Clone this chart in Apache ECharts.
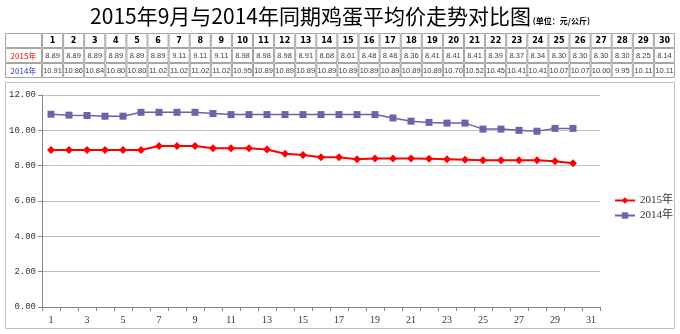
<!DOCTYPE html>
<html>
<head>
<meta charset="utf-8">
<script src="https://cdn.jsdelivr.net/npm/echarts@6/dist/echarts.min.js"></script>
<style>
  html, body { margin: 0; padding: 0; background: #fff; }
  #main { width: 680px; height: 334px; }
</style>
</head>
<body>
<div id="main"></div>
<script>
// Days of September, prices in yuan per kg
const days = [1,2,3,4,5,6,7,8,9,10,11,12,13,14,15,16,17,18,19,20,21,22,23,24,25,26,27,28,29,30];
const axisDays = [1,2,3,4,5,6,7,8,9,10,11,12,13,14,15,16,17,18,19,20,21,22,23,24,25,26,27,28,29,30,31];
const price2015 = [8.89,8.89,8.89,8.89,8.89,8.89,9.11,9.11,9.11,8.98,8.98,8.98,8.91,8.68,8.61,8.48,8.48,8.36,8.41,8.41,8.41,8.39,8.37,8.34,8.30,8.30,8.30,8.30,8.25,8.14];
const price2014 = [10.91,10.86,10.84,10.80,10.80,11.02,11.02,11.02,11.02,10.95,10.89,10.89,10.89,10.89,10.89,10.89,10.89,10.89,10.89,10.70,10.52,10.45,10.41,10.41,10.07,10.07,10.00,9.95,10.11,10.11];
const seriesNames = ['2015年', '2014年'];
const yTicks = [0, 2, 4, 6, 8, 10, 12];

const RED = '#FF0000';
const BLUE = '#6666A8';

// Summary table drawn above the plot
function buildTable() {
  const els = [];
  const x0 = 5, firstW = 37, colW = (675 - 42) / days.length;
  const rowY = [33, 48, 63], rowH = 15;
  const cell = (x, y, w, h) => ({
    type: 'rect',
    shape: { x: x + 0.5, y: y + 0.5, width: w - 1, height: h - 1 },
    style: { fill: '#fff', stroke: '#A6A6A6', lineWidth: 1 }
  });
  const txt = (cx, cy, s, color, font) => ({
    type: 'text',
    style: { x: cx, y: cy, text: s, fill: color, font: font, textAlign: 'center', textVerticalAlign: 'middle' }
  });
  rowY.forEach(y => els.push(cell(x0, y, firstW, rowH)));
  days.forEach((d, i) => {
    const x = 42 + colW * i;
    rowY.forEach(y => els.push(cell(x, y, colW, rowH)));
    const cx = x + colW / 2;
    els.push(txt(cx, rowY[0] + rowH / 2 + 0.5, String(d), '#000', 'bold 8px "DejaVu Sans"'));
    els.push(txt(cx, rowY[1] + rowH / 2 + 0.5, price2015[i].toFixed(2), '#404040', '7.5px "Liberation Sans Narrow", "Liberation Sans"'));
    els.push(txt(cx, rowY[2] + rowH / 2 + 0.5, price2014[i].toFixed(2), '#404040', '7.5px "Liberation Sans Narrow", "Liberation Sans"'));
  });
  els.push(txt(x0 + firstW / 2, rowY[1] + rowH / 2 + 0.5, seriesNames[0], RED, '8px "Noto Sans CJK SC"'));
  els.push(txt(x0 + firstW / 2, rowY[2] + rowH / 2 + 0.5, seriesNames[1], '#3333CC', '8px "Noto Sans CJK SC"'));
  return els;
}

const chart = echarts.init(document.getElementById('main'), null, { renderer: 'canvas' });

chart.setOption({
  backgroundColor: '#fff',
  animation: false,
  title: {
    text: '{main|2015年9月与2014年同期鸡蛋平均价走势对比图}{unit| (单位：元/公斤)}',
    left: 'center',
    top: 1,
    textStyle: {
      rich: {
        main: { fontSize: 21, color: '#000', fontFamily: '"Noto Sans CJK SC"', fontWeight: 'normal' },
        unit: { fontSize: 8, color: '#000', fontFamily: '"Noto Sans CJK SC"', padding: [8, 0, 0, 0] }
      }
    }
  },
  graphic: [
    {
      type: 'rect', z: -1,
      shape: { x: 5.5, y: 82.5, width: 669, height: 246 },
      style: { fill: '#fff', stroke: '#BFBFBF', lineWidth: 1 }
    }
  ].concat(buildTable()),
  legend: {
    orient: 'vertical',
    left: 609,
    top: 190,
    itemWidth: 20,
    itemHeight: 8,
    itemGap: 4,
    data: seriesNames,
    textStyle: { fontSize: 11, color: '#333', fontFamily: '"Liberation Serif", "Noto Sans CJK SC"' }
  },
  grid: { left: 42, right: 80, top: 95, bottom: 27, containLabel: false },
  xAxis: {
    type: 'category',
    data: axisDays,
    boundaryGap: true,
    axisLine: { lineStyle: { color: '#868686' } },
    axisTick: { show: true, interval: 0, length: 4, lineStyle: { color: '#868686' } },
    axisLabel: {
      interval: 1,
      color: '#333',
      fontSize: 10,
      margin: 8,
      fontFamily: '"Liberation Serif", serif'
    }
  },
  yAxis: {
    type: 'value',
    min: yTicks[0],
    max: yTicks[yTicks.length - 1],
    interval: 2,
    axisLine: { show: true, lineStyle: { color: '#868686' } },
    axisTick: { show: true, length: 4, lineStyle: { color: '#868686' } },
    axisLabel: {
      color: '#333',
      fontSize: 9,
      margin: 6,
      fontFamily: '"Liberation Mono", monospace',
      formatter: v => v.toFixed(2)
    },
    splitLine: { lineStyle: { color: '#BFBFBF', width: 1 } }
  },
  series: [
    {
      name: seriesNames[0],
      type: 'line',
      data: price2015,
      symbol: 'diamond',
      symbolSize: 8,
      itemStyle: { color: RED },
      lineStyle: { color: RED, width: 2 }
    },
    {
      name: seriesNames[1],
      type: 'line',
      data: price2014,
      symbol: 'rect',
      symbolSize: 7,
      itemStyle: { color: BLUE },
      lineStyle: { color: BLUE, width: 1.5 }
    }
  ]
});
</script>
</body>
</html>
